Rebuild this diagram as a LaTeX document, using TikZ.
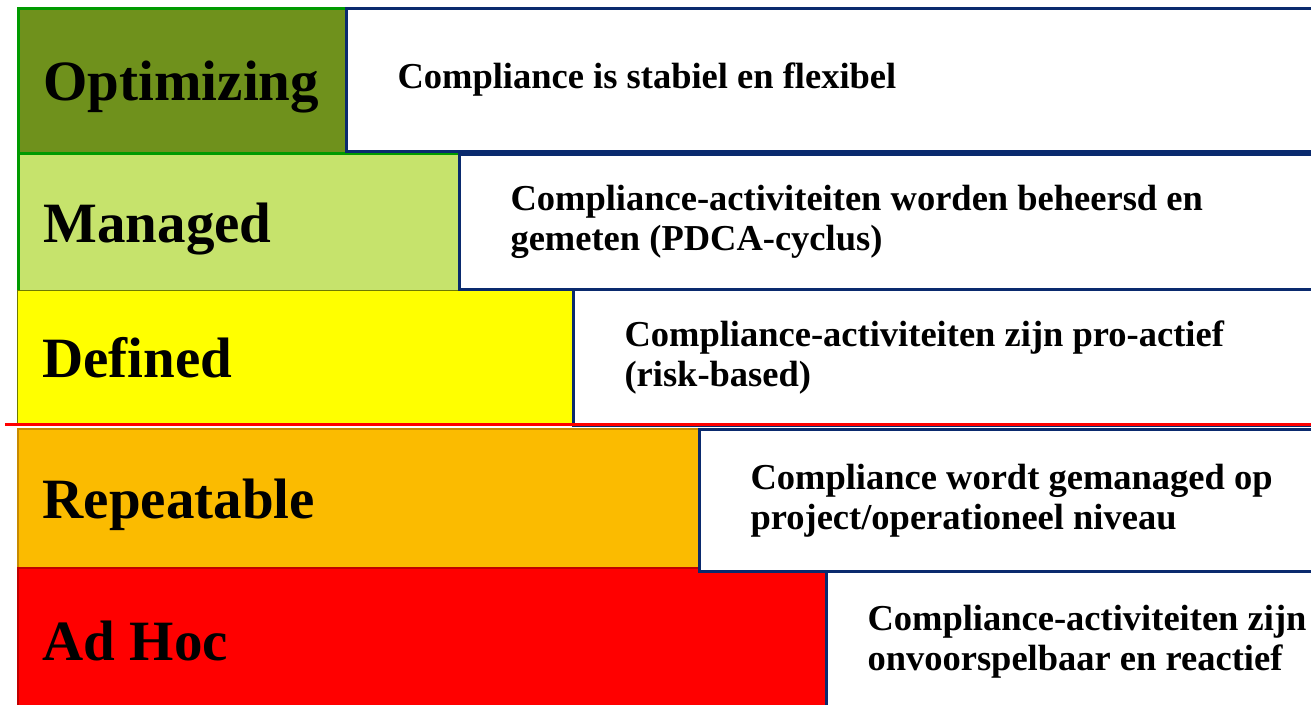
\documentclass[tikz,border=0pt]{standalone}
\usepackage{fontspec}
\setmainfont{Liberation Serif}
\definecolor{olivef}{HTML}{6F911C}
\definecolor{lgreen}{HTML}{C6E36C}
\definecolor{gborder}{HTML}{009A00}
\definecolor{navy}{HTML}{0A2A6E}
\definecolor{orangef}{HTML}{FBBB00}
\definecolor{orangeb}{HTML}{C88A00}
\definecolor{redb}{HTML}{C00000}
\definecolor{yellb}{HTML}{6E7A00}
\definecolor{yellf}{HTML}{FFFF00}
\tikzset{
  lvl/.style={anchor=north west, inner xsep=25pt, inner ysep=0pt, align=flush left,
    font=\fontsize{57}{60}\selectfont\bfseries, text depth=0pt},
  descbox/.style={anchor=north west, draw=navy, line width=3pt, fill=white,
    inner xsep=51pt, inner ysep=0pt, align=flush left, text width=900pt,
    font=\fontsize{36.5}{40}\selectfont\bfseries},
}
\begin{document}
\begin{tikzpicture}[x=1pt,y=-1pt]
\useasboundingbox (0,0) rectangle (1311,704);
\begin{scope}
\clip (0,0) rectangle (1311,704);
% left level boxes
\node[lvl, fill=olivef, draw=gborder, line width=3pt, minimum width=328pt, minimum height=145pt, text width=278pt] (opt) at (17,7) {Optimizing};
\node[lvl, fill=lgreen, draw=gborder, line width=3pt, minimum width=441pt, minimum height=138pt, text width=391pt] (man) at (17,152) {Managed};
\node[lvl, fill=yellf, draw=yellb, line width=1pt, minimum width=555pt, minimum height=134pt, text width=505pt] (def) at (17,290) {Defined};
\node[lvl, fill=orangef, draw=orangeb, line width=1.5pt, minimum width=681pt, minimum height=139pt, text width=631pt] (rep) at (17,428) {Repeatable};
\node[lvl, fill=red, draw=redb, line width=1.5pt, minimum width=808pt, minimum height=145pt, text width=758pt] (adh) at (17,567) {Ad Hoc};
% description boxes
\node[descbox, minimum height=143pt] (d1) at (345,7) {Compliance is stabiel en flexibel};
\node[descbox, minimum height=135pt] (d2) at (458,153) {Compliance-activiteiten worden beheersd en\\gemeten (PDCA-cyclus)};
\node[descbox, minimum height=136pt] (d3) at (572,288) {Compliance-activiteiten zijn pro-actief\\(risk-based)};
\node[descbox, minimum height=142pt] (d4) at (698,428) {Compliance wordt gemanaged op\\project/operationeel niveau};
\node[descbox, minimum height=140pt, inner xsep=41pt] (d5) at (825,570) {Compliance-activiteiten zijn\\onvoorspelbaar en reactief};
% red separator line
\coordinate (rl) at (5,424);
\coordinate (rr) at (1311,424);
\draw[red, line width=3pt] (rl) -- (rr);
\end{scope}
\end{tikzpicture}
\end{document}
